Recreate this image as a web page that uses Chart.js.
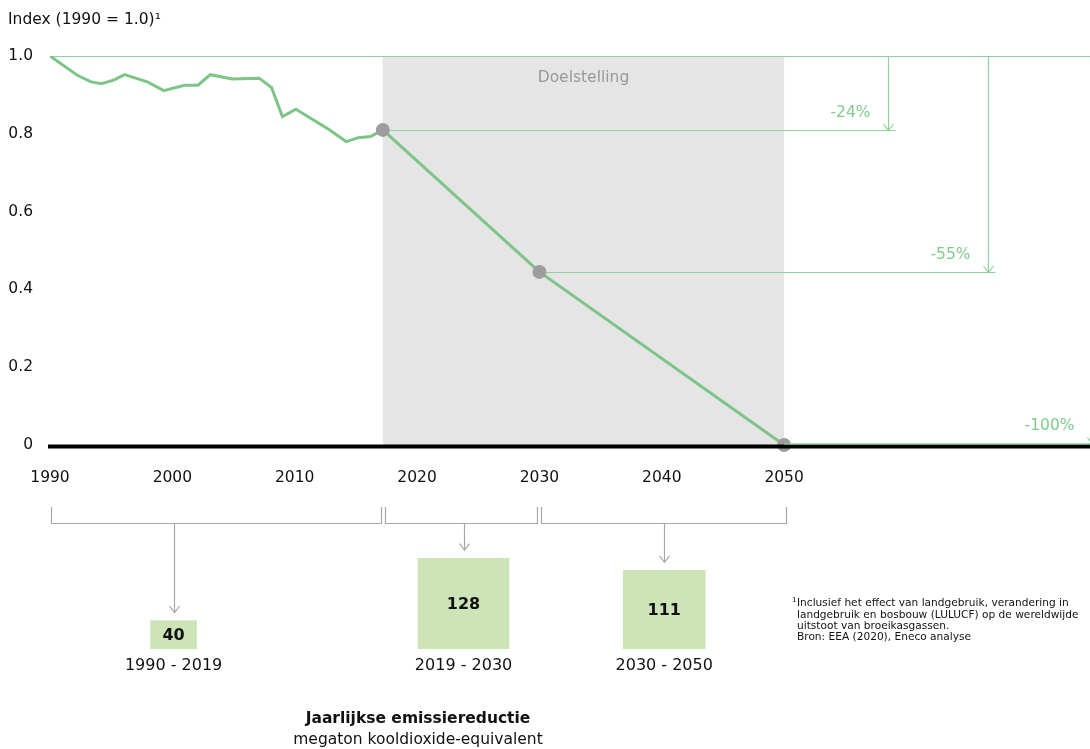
<!DOCTYPE html>
<html>
<head>
<meta charset="utf-8">
<script src="https://cdn.jsdelivr.net/npm/chart.js@4/dist/chart.umd.min.js"></script>
<style>
  html, body { margin: 0; padding: 0; background: #fff; }
  #wrap { position: relative; width: 1090px; height: 749px; overflow: hidden; }
  canvas { position: absolute; left: 0; top: 0; }
</style>
</head>
<body>
<div id="wrap">
  <canvas id="main" width="1090" height="749"></canvas>
  <canvas id="bottom" width="1090" height="749"></canvas>
</div>
<script>
// ---------- DATA ----------
const historicYears = [1990, 1992.2, 1993.3, 1994.2, 1995.2, 1996.1, 1998.0, 1999.3, 2001.0, 2002.1, 2003.1, 2004.9, 2007.1, 2008.1, 2009.0, 2010.1, 2012.8, 2014.2, 2015.2, 2016.2, 2017.2];
const historicIndex = [1.0, 0.951, 0.934, 0.929, 0.938, 0.952, 0.933, 0.911, 0.925, 0.925, 0.952, 0.941, 0.943, 0.919, 0.844, 0.863, 0.811, 0.780, 0.790, 0.793, 0.810];
const targetYears = [2017.2, 2030, 2050];
const targetIndex = [0.81, 0.445, 0];
const targetLabels = ['-24%', '-55%', '-100%'];
const xTickLabels = [1990, 2000, 2010, 2020, 2030, 2040, 2050];
const yTickLabels = [0, 0.2, 0.4, 0.6, 0.8, 1.0];
const periods = ['1990 - 2019', '2019 - 2030', '2030 - 2050'];
const reductions = [40, 128, 111];

// ---------- LAYOUT / STYLE ----------
const FONT = "'DejaVu Sans', sans-serif";
const GREEN = '#7dc487';
const LIGHTGREEN = '#8ed39a';
const GREENTEXT = '#7fca8c';
const GREY_MARK = '#9d9d9d';
const SHADE = '#e5e5e5';
const BOX = '#cde4b9';
const BRACKET = '#a8a8a8';
const X_MIN = 1990, X_MAX = 2075;
const AREA = {left: 50, top: 56, right: 1090, bottom: 445};
const arrowYears = [2058.5, 2066.7, 2075.2];
const bracketRanges = [[1990, 2017.2], [2017.2, 2030], [2030, 2050]];
const boxCenters = [2000.1, 2023.8, 2040.2];
const boxWidths = [46, 91, 82];

function arrowHead(ctx, x, y, s) {
  ctx.beginPath();
  ctx.moveTo(x - s, y - s * 1.3);
  ctx.lineTo(x, y);
  ctx.lineTo(x + s, y - s * 1.3);
  ctx.stroke();
}

const mainPlugin = {
  id: 'mainDecor',
  beforeDatasetsDraw(chart) {
    const {ctx, chartArea, scales: {x, y}} = chart;
    ctx.save();
    // shaded target region
    const x0 = x.getPixelForValue(targetYears[0]);
    const x1 = x.getPixelForValue(targetYears[2]);
    ctx.fillStyle = SHADE;
    ctx.fillRect(x0, y.getPixelForValue(1), x1 - x0, y.getPixelForValue(0) - y.getPixelForValue(1));
    ctx.fillStyle = '#999';
    ctx.font = '15.5px ' + FONT;
    ctx.textAlign = 'center';
    ctx.textBaseline = 'middle';
    ctx.fillText('Doelstelling', (x0 + x1) / 2, 78);

    // 1.0 reference line
    ctx.strokeStyle = LIGHTGREEN;
    ctx.lineWidth = 1.2;
    ctx.beginPath();
    ctx.moveTo(chartArea.left, y.getPixelForValue(1) + 0.5);
    ctx.lineTo(chart.width, y.getPixelForValue(1) + 0.5);
    ctx.stroke();

    // target arrows
    const topY = y.getPixelForValue(1);
    targetYears.forEach((yr, i) => {
      const px = x.getPixelForValue(yr);
      const py = Math.round(y.getPixelForValue(targetIndex[i])) + (i === 2 ? -1 : 0.5);
      const ax = Math.round(x.getPixelForValue(arrowYears[i])) + 0.5;
      ctx.strokeStyle = LIGHTGREEN;
      ctx.lineWidth = 1.2;
      ctx.beginPath();
      ctx.moveTo(px, py);
      ctx.lineTo(Math.min(ax + 7, chart.width), py);
      ctx.stroke();
      ctx.beginPath();
      ctx.moveTo(ax, topY);
      ctx.lineTo(ax, py);
      ctx.stroke();
      arrowHead(ctx, ax, py, 5);
      ctx.fillStyle = GREENTEXT;
      ctx.font = '15.5px ' + FONT;
      ctx.textAlign = 'right';
      ctx.textBaseline = 'middle';
      ctx.fillText(targetLabels[i], ax - 18, py - 18);
    });
    ctx.restore();
  },
  afterDatasetsDraw(chart) {
    const {ctx, scales: {x, y}} = chart;
    ctx.save();
    // x axis baseline
    const y0 = y.getPixelForValue(0);
    ctx.strokeStyle = '#000';
    ctx.lineWidth = 4;
    ctx.beginPath();
    ctx.moveTo(48, y0 + 1.5);
    ctx.lineTo(chart.width, y0 + 1.5);
    ctx.stroke();
    ctx.strokeStyle = LIGHTGREEN;
    ctx.lineWidth = 1.2;
    ctx.beginPath();
    ctx.moveTo(x.getPixelForValue(targetYears[2]), y0 - 1);
    ctx.lineTo(chart.width, y0 - 1);
    ctx.stroke();
    ctx.restore();
  },
  afterDraw(chart) {
    const {ctx} = chart;
    ctx.save();
    ctx.fillStyle = '#111';
    ctx.font = '15.5px ' + FONT;
    ctx.textAlign = 'left';
    ctx.textBaseline = 'middle';
    ctx.fillText('Index (1990 = 1.0)\u00B9', 8, 20);
    ctx.restore();
  }
};

const mainChart = new Chart(document.getElementById('main'), {
  type: 'line',
  data: {
    datasets: [
      {
        data: historicYears.map((v, i) => ({x: v, y: historicIndex[i]})),
        borderColor: GREEN,
        borderWidth: 3,
        pointRadius: 0,
        tension: 0,
        order: 2
      },
      {
        data: targetYears.map((v, i) => ({x: v, y: targetIndex[i]})),
        borderColor: GREEN,
        borderWidth: 3,
        pointRadius: 7,
        pointBackgroundColor: GREY_MARK,
        pointBorderColor: GREY_MARK,
        pointBorderWidth: 0,
        tension: 0,
        clip: false,
        order: 1
      }
    ]
  },
  options: {
    responsive: false,
    animation: false,
    events: [],
    layout: {autoPadding: false, padding: {left: 0, right: 0, top: AREA.top, bottom: 749 - AREA.bottom - 60}},
    plugins: {legend: {display: false}, tooltip: {enabled: false}, title: {display: false}},
    scales: {
      x: {
        type: 'linear',
        min: X_MIN, max: X_MAX,
        afterBuildTicks(scale) { scale.ticks = xTickLabels.map(v => ({value: v})); },
        afterFit(scale) { scale.height = 60; },
        grid: {display: false, drawTicks: false},
        border: {display: false},
        ticks: {
          autoSkip: false, maxRotation: 0, padding: 24,
          color: '#111', font: {family: FONT, size: 15.5},
          callback: v => String(v)
        }
      },
      y: {
        type: 'linear',
        min: 0, max: 1,
        afterBuildTicks(scale) { scale.ticks = yTickLabels.map(v => ({value: v})); },
        afterFit(scale) { scale.width = AREA.left; },
        grid: {display: false, drawTicks: false},
        border: {display: false},
        ticks: {
          crossAlign: 'near', padding: 17,
          color: '#111', font: {family: FONT, size: 15.5},
          callback: v => (v === 0 ? '0' : v.toFixed(1))
        }
      }
    }
  },
  plugins: [mainPlugin]
});

// ---------- bottom chart: annual emission reduction ----------
const bottomPlugin = {
  id: 'bottomDecor',
  afterDatasetsDraw(chart) {
    const {ctx, scales: {x, y}} = chart;
    ctx.save();
    ctx.strokeStyle = BRACKET;
    ctx.lineWidth = 1.2;
    const bTop = 507, bBot = 523.5;
    bracketRanges.forEach((r, i) => {
      const l = Math.round(x.getPixelForValue(r[0])) + (i === 0 ? 1.5 : 2.5);
      const rr = Math.round(x.getPixelForValue(r[1])) - (i === 2 ? -2.5 : 1.5);
      ctx.beginPath();
      ctx.moveTo(l, bTop);
      ctx.lineTo(l, bBot);
      ctx.lineTo(rr, bBot);
      ctx.lineTo(rr, bTop);
      ctx.stroke();
      const cx = Math.round(x.getPixelForValue(boxCenters[i])) + 0.5;
      const tip = y.getPixelForValue(reductions[i]) - 8;
      ctx.beginPath();
      ctx.moveTo(cx, bBot);
      ctx.lineTo(cx, tip);
      ctx.stroke();
      arrowHead(ctx, cx, tip, 5);
    });
    reductions.forEach((v, i) => {
      const cx = x.getPixelForValue(boxCenters[i]);
      const yt = y.getPixelForValue(v), yb = y.getPixelForValue(0);
      ctx.fillStyle = '#111';
      ctx.font = 'bold 16px ' + FONT;
      ctx.textAlign = 'center';
      ctx.textBaseline = 'middle';
      ctx.fillText(String(v), cx, (yt + yb) / 2 + 1);
      ctx.font = '16px ' + FONT;
      ctx.fillText(periods[i], cx, 666);
    });
    ctx.fillStyle = '#111';
    ctx.textAlign = 'center';
    ctx.textBaseline = 'middle';
    ctx.font = 'bold 15.5px ' + FONT;
    ctx.fillText('Jaarlijkse emissiereductie', 418, 719);
    ctx.font = '15.5px ' + FONT;
    ctx.fillText('megaton kooldioxide-equivalent', 418, 740);

    // footnote
    ctx.textAlign = 'left';
    const lines = [
      'Inclusief het effect van landgebruik, verandering in',
      'landgebruik en bosbouw (LULUCF) op de wereldwijde',
      'uitstoot van broeikasgassen.',
      'Bron: EEA (2020), Eneco analyse'
    ];
    ctx.font = '7px ' + FONT;
    ctx.fillText('1', 792, 600);
    ctx.font = '10.6px ' + FONT;
    lines.forEach((t, i) => ctx.fillText(t, 797, 603.5 + i * 11.4));
    ctx.restore();
  }
};

new Chart(document.getElementById('bottom'), {
  type: 'bar',
  data: {
    datasets: reductions.map((v, i) => ({
      data: [{x: boxCenters[i], y: v}],
      backgroundColor: BOX,
      borderWidth: 0,
      barThickness: boxWidths[i],
      grouped: false
    }))
  },
  options: {
    responsive: false,
    animation: false,
    events: [],
    layout: {autoPadding: false, padding: {left: 50, right: 0, top: 549, bottom: 100}},
    plugins: {legend: {display: false}, tooltip: {enabled: false}},
    scales: {
      x: {type: 'linear', min: X_MIN, max: X_MAX, display: false, offset: false},
      y: {type: 'linear', min: 0, max: 141, display: false}
    }
  },
  plugins: [bottomPlugin]
});
</script>
</body>
</html>
